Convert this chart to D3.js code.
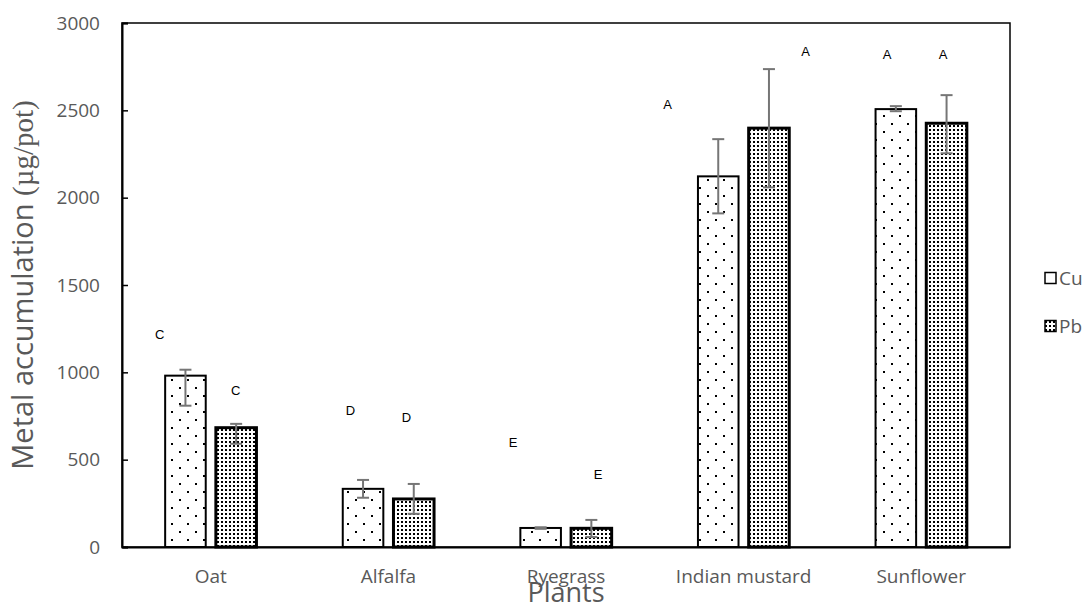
<!DOCTYPE html>
<html><head><meta charset="utf-8">
<script src="https://cdn.jsdelivr.net/npm/d3@7"></script>
<style>html,body{margin:0;padding:0;background:#fff;}svg{display:block;}</style>
</head><body>
<svg id="chart" width="1092" height="609"></svg>
<script>
// ---- data ----
const categories = ["Oat", "Alfalfa", "Ryegrass", "Indian mustard", "Sunflower"];
const seriesNames = ["Cu", "Pb"];
const cuValues = [981, 333, 109, 2122, 2507];
const pbValues = [683, 275, 107, 2398, 2426];
const cuErrLow = [809, 282, 104, 1910, 2495];
const cuErrHigh = [1015, 384, 113, 2335, 2524];
const pbErrLow = [591, 190, 57, 2059, 2254];
const pbErrHigh = [705, 361, 155, 2736, 2587];
const cuLetters = ["C", "D", "E", "A", "A"];
const pbLetters = ["C", "D", "E", "A", "A"];
const cuLetterAt = [1216, 780, 597, 2532, 2822];
const pbLetterAt = [895, 740, 413, 2839, 2822];
const yTicks = [0, 500, 1000, 1500, 2000, 2500, 3000];

// ---- layout ----
const L = 122, R = 1010, T = 23, B = 547;
const cuLetterDx = [-51, -38, -53, -76, -34];
const pbLetterDx = [25, 18, 32, 62, 22];

const svg = d3.select("#chart");
const defs = svg.append("defs");
const pc = defs.append("pattern").attr("id", "pCu").attr("patternUnits", "userSpaceOnUse")
  .attr("width", 16).attr("height", 16);
pc.append("rect").attr("width", 16).attr("height", 16).attr("fill", "#fff");
pc.append("rect").attr("x", 3).attr("y", 3).attr("width", 2).attr("height", 2).attr("fill", "#000");
pc.append("rect").attr("x", 11).attr("y", 11).attr("width", 2).attr("height", 2).attr("fill", "#000");
const pp = defs.append("pattern").attr("id", "pPb").attr("patternUnits", "userSpaceOnUse")
  .attr("width", 4).attr("height", 4);
pp.append("rect").attr("width", 4).attr("height", 4).attr("fill", "#fff");
pp.append("rect").attr("x", 1).attr("y", 1).attr("width", 2).attr("height", 2).attr("fill", "#000");

const x = d3.scaleBand().domain(categories).range([L, R]);
const xs = d3.scaleBand().domain(seriesNames)
  .range([x.bandwidth() * 0.243, x.bandwidth() * 0.757]).paddingInner(0.2);
const y = d3.scaleLinear().domain([0, 3000]).range([B, T]);

const font = "'Open Sans', sans-serif";
const grey = "#595959";

// frame
svg.append("rect").attr("x", L).attr("y", T).attr("width", R - L).attr("height", B - T)
  .attr("fill", "none").attr("stroke", "#000").attr("stroke-width", 1.5);

// y axis
const yAxis = svg.append("g").attr("transform", `translate(${L},0)`)
  .call(d3.axisLeft(y).tickValues(yTicks).tickSize(-6).tickPadding(22).tickFormat(d3.format("d")));
yAxis.select(".domain").attr("stroke", "#000").attr("stroke-width", 2);
yAxis.selectAll(".tick line").attr("stroke", "#000").attr("stroke-width", 1.5);
yAxis.selectAll(".tick text").attr("font-family", font).attr("font-size", 19).attr("fill", grey);

// x axis
const xAxis = svg.append("g").attr("transform", `translate(0,${B})`)
  .call(d3.axisBottom(x).tickSize(0).tickPadding(23));
xAxis.select(".domain").attr("stroke", "#000").attr("stroke-width", 2);
xAxis.selectAll(".tick text").attr("font-family", font).attr("font-size", 19).attr("fill", grey);

const series = [
  {name: "Cu", vals: cuValues, lo: cuErrLow, hi: cuErrHigh, fill: "url(#pCu)", sw: 2, letters: cuLetters, lat: cuLetterAt, ldx: cuLetterDx},
  {name: "Pb", vals: pbValues, lo: pbErrLow, hi: pbErrHigh, fill: "url(#pPb)", sw: 3, letters: pbLetters, lat: pbLetterAt, ldx: pbLetterDx}
];

series.forEach(s => {
  const g = svg.append("g");
  g.selectAll("rect").data(categories).join("rect")
    .attr("x", (c) => x(c) + xs(s.name))
    .attr("y", (c, i) => y(s.vals[i]))
    .attr("width", xs.bandwidth())
    .attr("height", (c, i) => y(0) - y(s.vals[i]))
    .attr("fill", s.fill).attr("stroke", "#000").attr("stroke-width", s.sw);
});

series.forEach(s => {
  const eg = svg.append("g").attr("stroke", "#767676").attr("stroke-width", 2);
  categories.forEach((c, i) => {
    const cx = x(c) + xs(s.name) + xs.bandwidth() / 2;
    eg.append("line").attr("x1", cx).attr("x2", cx).attr("y1", y(s.lo[i])).attr("y2", y(s.hi[i]));
    eg.append("line").attr("x1", cx - 6).attr("x2", cx + 6).attr("y1", y(s.lo[i])).attr("y2", y(s.lo[i]));
    eg.append("line").attr("x1", cx - 6).attr("x2", cx + 6).attr("y1", y(s.hi[i])).attr("y2", y(s.hi[i]));
  });
  svg.append("g").selectAll("text").data(categories).join("text")
    .attr("x", (c, i) => x(c) + x.bandwidth() / 2 + s.ldx[i])
    .attr("y", (c, i) => y(s.lat[i]))
    .attr("text-anchor", "middle").attr("dominant-baseline", "central")
    .attr("font-family", "'Liberation Sans', Arial, sans-serif").attr("font-size", 13).attr("fill", "#000")
    .text((c, i) => s.letters[i]);
});

// legend
const leg = svg.append("g");
series.forEach((s, i) => {
  const ly = 278 + i * 48;
  leg.append("rect").attr("x", 1045).attr("y", ly - 5.5).attr("width", 11).attr("height", 11)
    .attr("fill", i === 0 ? "#fff" : "url(#pPb)").attr("stroke", "#000").attr("stroke-width", 1.5);
  leg.append("text").attr("x", 1059).attr("y", ly).attr("dominant-baseline", "central")
    .attr("font-family", font).attr("font-size", 19).attr("fill", grey).text(s.name);
});

// axis titles
svg.append("text").attr("x", (L + R) / 2).attr("y", 602).attr("text-anchor", "middle")
  .attr("font-family", font).attr("font-size", 27).attr("fill", grey).text("Plants");
const yt = svg.append("text").attr("transform", `translate(33,${(T + B) / 2}) rotate(-90)`)
  .attr("text-anchor", "middle").attr("font-family", font).attr("font-size", 29).attr("fill", grey);
yt.append("tspan").text("Metal accumulation ");
yt.append("tspan").attr("font-family", "'Liberation Serif', 'Times New Roman', serif").text("(µg/pot)");
</script>
</body></html>
